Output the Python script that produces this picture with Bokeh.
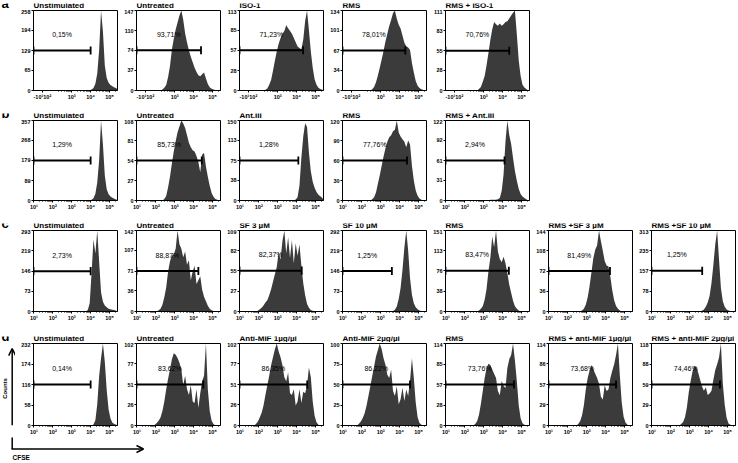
import numpy as np
from bokeh.plotting import figure
from bokeh.layouts import column, row
from bokeh.models import Range1d, FixedTicker, Label, Arrow, OpenHead, Spacer
from bokeh.core.properties import value
from bokeh.embed import file_html
from bokeh.resources import INLINE

# ---------------- data ----------------
BIN = 0.1  # histogram bin width, log10(CFSE) units

a_titles = ["Unstimulated", "Untreated", "ISO-1", "RMS", "RMS + ISO-1"]
a_pcts = ["0,15%", "93,71%", "71,23%", "78,01%", "70,76%"]
a_gate = [4.0, 4.39, 4.34, 4.30, 4.35]
a_yticks = [[0, 65, 129, 194, 258], [0, 37, 74, 110, 147], [0, 28, 57, 85, 113],
            [0, 34, 67, 101, 134], [0, 28, 55, 83, 111]]
a_start = [3.95, 2.35, 2.35, 2.55, 2.75]
a_counts = [
    [1, 3, 8, 22, 55, 130, 258, 190, 80, 40, 25, 18, 14, 10, 8],
    [2, 5, 10, 25, 45, 75, 95, 112, 125, 138, 147, 130, 105, 88, 74, 62, 52, 42, 34, 28, 26, 30, 33, 22, 12, 6, 3, 2, 1],
    [1, 3, 8, 15, 28, 42, 55, 66, 74, 80, 84, 92, 88, 84, 80, 74, 68, 62, 60, 58, 72, 98, 113, 85, 55, 32, 16, 8, 4, 2, 1],
    [2, 6, 14, 25, 38, 52, 66, 82, 95, 108, 118, 130, 134, 120, 110, 104, 92, 80, 74, 72, 68, 46, 30, 16, 8, 4, 2, 1],
    [2, 5, 12, 20, 35, 52, 70, 85, 95, 92, 90, 93, 90, 92, 95, 96, 100, 104, 108, 111, 78, 42, 20, 8, 4, 2],
]

b_titles = ["Unstimulated", "Untreated", "Ant.III", "RMS", "RMS + Ant.III"]
b_pcts = ["1,29%", "85,73%", "1,28%", "77,76%", "2,94%"]
b_gate = [4.0, 4.43, 4.09, 4.39, 4.1]
b_yticks = [[0, 89, 179, 268, 357], [0, 27, 54, 81, 108], [0, 38, 75, 113, 150],
            [0, 30, 60, 90, 120], [0, 31, 61, 92, 122]]
b_start = [4.05, 2.45, 3.95, 2.55, 3.35]
b_counts = [
    [3, 10, 30, 80, 180, 357, 250, 110, 50, 28, 18, 12, 8, 5],
    [2, 6, 18, 32, 50, 66, 80, 92, 100, 108, 104, 98, 88, 78, 72, 68, 66, 60, 52, 38, 62, 64, 46, 32, 20, 10, 5, 2, 1],
    [2, 6, 28, 80, 120, 145, 138, 90, 55, 35, 24, 16, 11, 8, 5],
    [2, 5, 12, 25, 38, 52, 66, 78, 88, 95, 98, 104, 106, 120, 102, 96, 92, 88, 80, 90, 84, 52, 30, 15, 7, 3, 1],
    [1, 1, 1, 1, 2, 4, 15, 40, 90, 122, 100, 86, 65, 45, 30, 18, 10, 6, 4, 2],
]

c_titles = ["Unstimulated", "Untreated", "SF 3 µM", "SF 10 µM", "RMS", "RMS +SF 3 µM", "RMS +SF 10 µM"]
c_pcts = ["2,73%", "88,87%", "82,37%", "1,25%", "83,47%", "81,49%", "1,25%"]
c_gate = [4.0, 4.25, 4.27, 3.59, 4.33, 4.23, 3.66]
c_yticks = [[0, 73, 146, 219, 293], [0, 36, 71, 107, 142], [0, 27, 55, 82, 109],
            [0, 73, 146, 219, 292], [0, 38, 76, 113, 151], [0, 36, 72, 108, 144],
            [0, 78, 157, 235, 313]]
c_start = [3.85, 2.15, 1.95, 3.65, 2.75, 2.75, 3.65]
c_counts = [
    [5, 30, 140, 260, 210, 293, 180, 70, 35, 22, 15, 10, 8, 6, 5, 3],
    [2, 5, 12, 25, 42, 70, 88, 98, 100, 110, 142, 118, 110, 95, 105, 82, 90, 55, 70, 80, 48, 55, 62, 38, 26, 18, 10, 5, 2, 1],
    [1, 3, 5, 8, 12, 15, 22, 30, 40, 50, 60, 80, 70, 95, 109, 78, 100, 72, 96, 65, 92, 75, 90, 62, 38, 22, 10, 5, 2, 1],
    [2, 6, 18, 45, 85, 150, 230, 292, 220, 120, 60, 30, 15, 8, 4, 2],
    [2, 5, 10, 22, 42, 75, 100, 140, 120, 151, 112, 98, 92, 102, 90, 72, 50, 35, 20, 10, 5, 2],
    [2, 5, 12, 25, 45, 70, 95, 110, 118, 144, 125, 108, 90, 82, 80, 62, 38, 20, 10, 5, 2],
    [3, 8, 18, 35, 60, 110, 180, 260, 313, 200, 90, 40, 18, 8, 4, 2],
]

d_titles = ["Unstimulated", "Untreated", "Anti-MIF 1µg/µl", "Anti-MIF 2µg/µl", "RMS",
            "RMS + anti-MIF 1µg/µl", "RMS + anti-MIF 2µg/µl"]
d_pcts = ["0,14%", "83,62%", "86,35%", "86,22%", "73,76%", "73,68%", "74,46%"]
d_gate = [4.0, 4.51, 4.56, 4.55, 4.6, 4.55, 4.6]
d_yticks = [[0, 58, 116, 174, 232], [0, 26, 51, 77, 102], [0, 26, 51, 77, 102],
            [0, 25, 50, 75, 100], [0, 28, 57, 85, 114], [0, 29, 57, 86, 114],
            [0, 29, 59, 88, 118]]
d_start = [4.15, 1.95, 1.85, 1.85, 2.55, 2.55, 2.55]
d_counts = [
    [3, 15, 60, 140, 190, 232, 180, 100, 45, 20, 8, 4, 2],
    [1, 3, 6, 10, 18, 30, 45, 58, 70, 82, 90, 88, 84, 78, 70, 50, 62, 45, 38, 50, 30, 28, 45, 22, 40, 55, 62, 102, 45, 18, 6, 2],
    [2, 5, 10, 16, 25, 38, 50, 62, 75, 85, 95, 102, 92, 85, 75, 60, 55, 66, 40, 38, 45, 25, 30, 45, 28, 42, 40, 50, 72, 60, 30, 12, 4, 1],
    [2, 5, 9, 15, 24, 36, 48, 60, 72, 84, 92, 100, 93, 82, 74, 62, 58, 68, 42, 36, 48, 26, 32, 46, 30, 44, 36, 55, 82, 58, 28, 10, 3, 1],
    [2, 6, 15, 30, 48, 66, 80, 86, 84, 78, 72, 66, 48, 42, 62, 55, 52, 80, 92, 98, 114, 90, 62, 28, 10, 3, 1],
    [2, 6, 14, 28, 50, 66, 76, 84, 78, 72, 66, 58, 40, 36, 56, 48, 50, 66, 76, 85, 98, 114, 70, 32, 12, 4, 1],
    [2, 5, 12, 26, 48, 64, 78, 86, 84, 76, 66, 56, 50, 55, 44, 46, 50, 66, 80, 88, 98, 118, 60, 30, 11, 3, 1],
]

log_ticks = [1, 2, 3, 4, 5]
log_labels = ["10¹", "10²", "10³", "10⁴", "10⁵"]
biex_ticks = [1.45, 3, 4, 5]
biex_labels = ["-10¹10²", "10³", "10⁴", "10⁵"]

# ---------------- style / layout ----------------
X0, X1 = 0.98, 5.42
FW = 84          # frame width of each histogram
BL = 18          # left border (y tick labels)
PW = BL + FW + 1 # full width of one panel figure
LW = 15          # left strip (row letters)
TH = 9           # height of the title strip above each row
FONT = "Liberation Sans"
FILL = "#3b3b3b"
TOTAL_W = LW + 7 * PW
# measured distances (px) from a "top" anchor to the drawn baseline in this renderer
TITLE_DROP = 10.1
LETTER_DROP = 17.1

minor_log = [np.log10(k * 10.0 ** n) for n in range(1, 5) for k in range(2, 10)] + [np.log10(2e5)]
minor_biex = [m for m in minor_log if m > 2.0]


def make_panel(pct, gate, yt, start, counts, fh, bot_b, biex):
    ymax = yt[-1]
    p = figure(output_backend="svg", toolbar_location=None, frame_width=FW, frame_height=fh,
               x_range=Range1d(X0, X1), y_range=Range1d(0, ymax),
               min_border_left=BL, min_border_right=1,
               min_border_top=1, min_border_bottom=bot_b)
    p.xgrid.visible = False
    p.ygrid.visible = False
    p.outline_line_color = "black"
    p.outline_line_width = 1
    p.background_fill_color = "white"
    p.border_fill_color = "white"

    # histogram
    n = len(counts)
    xc = start + BIN * np.arange(n)
    xs = np.concatenate([[xc[0] - BIN], xc, [xc[-1] + BIN]])
    ys = np.concatenate([[0], counts, [0]])
    p.varea(x=xs, y1=np.zeros_like(ys), y2=ys, fill_color=FILL)

    # gate bar
    mid = yt[2]
    cap = 0.05 * ymax
    p.segment(x0=[X0], y0=[mid], x1=[gate], y1=[mid], line_color="black", line_width=2)
    p.segment(x0=[X0, gate], y0=[mid - cap, mid - cap], x1=[X0, gate], y1=[mid + cap, mid + cap],
              line_color="black", line_width=1.8)

    p.add_layout(Label(x=(X0 + gate) / 2, y=mid + 19.5 * ymax / fh, text=pct,
                       text_font=FONT, text_font_size="7px", text_align="center",
                       text_baseline="top", text_color="black"))

    # axes
    if biex:
        p.xaxis.ticker = FixedTicker(ticks=biex_ticks, minor_ticks=minor_biex)
        p.xaxis.major_label_overrides = dict(zip(biex_ticks, biex_labels))
    else:
        p.xaxis.ticker = FixedTicker(ticks=log_ticks, minor_ticks=minor_log)
        p.xaxis.major_label_overrides = dict(zip(log_ticks, log_labels))
    p.yaxis.ticker = FixedTicker(ticks=yt)
    for ax in (p.xaxis, p.yaxis):
        ax.axis_line_color = "black"
        ax.major_tick_line_color = "black"
        ax.major_tick_in = 0
        ax.major_tick_out = 2
        ax.minor_tick_in = 0
        ax.minor_tick_out = 1
        ax.minor_tick_line_color = "black"
        ax.major_label_standoff = 1
        ax.major_label_text_font = FONT
        ax.major_label_text_font_size = "5.5px"
        ax.major_label_text_font_style = "bold"
        ax.major_label_text_color = "black"
    p.yaxis.minor_tick_line_color = None
    return p


def strip(width, top, bottom):
    """Blank figure whose data units are page pixels (y grows downward)."""
    s = figure(output_backend="svg", toolbar_location=None, width=width, height=bottom - top,
               x_range=Range1d(0, width), y_range=Range1d(bottom, top),
               x_axis_location=None, y_axis_location=None, min_border=0)
    s.xgrid.visible = False
    s.ygrid.visible = False
    s.outline_line_color = None
    s.background_fill_color = "white"
    s.border_fill_color = "white"
    return s


def title_strip(letter, titles, top):
    s = strip(TOTAL_W, top, top + TH)
    for i, t in enumerate(titles):
        s.add_layout(Label(x=LW + BL + PW * i, y=top + 8.0 - TITLE_DROP, text=t, text_font=FONT,
                           text_font_style="bold", text_font_size="8px", text_baseline="top",
                           text_align="left", text_color="black"))
    s.add_layout(Label(x=1, y=top + 9.3 - LETTER_DROP, text=letter, text_font=FONT,
                       text_font_style="bold", text_font_size="13px", text_baseline="top",
                       text_align="left", text_color="black"))
    return s


def make_row(letter, titles, pcts, gates, yticks, starts, counts, top, fh, bot_b, left=None, biex=False):
    head = title_strip(letter, titles, top)
    h = 1 + fh + bot_b
    figs = [left if left is not None else Spacer(width=LW, height=h)]
    for i in range(len(titles)):
        figs.append(make_panel(pcts[i], gates[i], yticks[i], starts[i], counts[i], fh, bot_b, biex))
    return column(head, row(*figs))


# left strip of row d: "Counts" and the vertical axis arrow
AX = 11.7
D_TOP = 333
D_FH, D_BB = 82, 12
ld = strip(LW, D_TOP + TH, D_TOP + TH + 1 + D_FH + D_BB)
ld.add_layout(Arrow(end=OpenHead(size=7, line_width=1.5, line_color="black"),
                    x_start=AX, y_start=D_TOP + TH + 1 + D_FH + D_BB, x_end=AX, y_end=348,
                    line_width=1.5, line_color="black"))
ld.text(x=[4.5], y=[394], text=["Counts"], angle=np.pi / 2, text_font=value(FONT),
        text_font_style="bold", text_font_size="6px", text_align="center",
        text_baseline="middle", text_color="black")

row_a = make_row("a", a_titles, a_pcts, a_gate, a_yticks, a_start, a_counts, 0, 80, 20, biex=True)
row_b = make_row("b", b_titles, b_pcts, b_gate, b_yticks, b_start, b_counts, 110, 80, 20)
row_c = make_row("c", c_titles, c_pcts, c_gate, c_yticks, c_start, c_counts, 220, 81, 22)
row_d = make_row("d", d_titles, d_pcts, d_gate, d_yticks, d_start, d_counts, D_TOP, D_FH, D_BB, left=ld)

# bottom strip: horizontal CFSE arrow
B_TOP = D_TOP + TH + 1 + D_FH + D_BB
bot = strip(150, B_TOP, 463)
bot.segment(x0=[AX], y0=[B_TOP - 1], x1=[AX], y1=[448.5], line_color="black", line_width=1.5)
bot.add_layout(Arrow(end=OpenHead(size=7, line_width=1.5, line_color="black"),
                     x_start=AX - 0.7, y_start=448.5, x_end=143, y_end=448.5,
                     line_width=1.5, line_color="black"))
bot.add_layout(Label(x=12, y=453, text="CFSE", text_font=FONT, text_font_style="bold",
                     text_font_size="6.5px", text_align="left", text_baseline="top",
                     text_color="black"))

layout = column(row_a, row_b, row_c, row_d, bot)

open("out.html", "w").write(file_html(layout, INLINE))
